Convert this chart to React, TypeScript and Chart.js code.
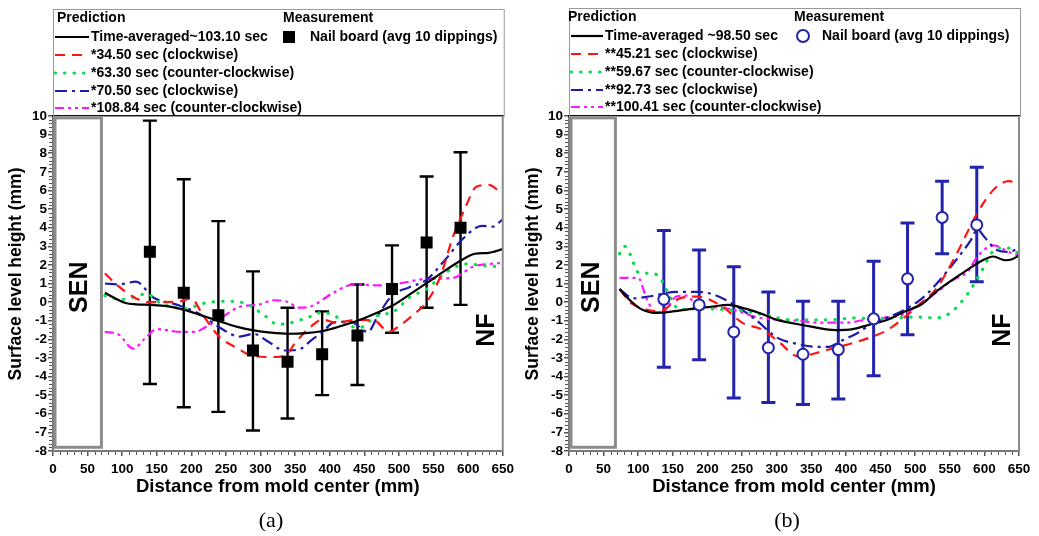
import React, { useEffect, useRef } from "react";
import { Chart, registerables } from "chart.js";
Chart.register(...registerables);

const FONT = "'Liberation Sans', Arial, sans-serif";

// ---------------- Panel (a) ----------------
const aLabels = [
  "Time-averaged~103.10 sec",
  "*34.50 sec (clockwise)",
  "*63.30 sec (counter-clockwise)",
  "*70.50 sec (clockwise)",
  "*108.84 sec (counter-clockwise)",
];
const aMeasLabel = "Nail board (avg 10 dippings)";

const aBlackX = [75, 90, 105, 120, 140, 165, 190, 215, 240, 265, 290, 315, 340, 365, 390, 415, 440, 465, 490, 515, 540, 565, 590, 610, 630, 650];
const aBlackY = [0.5, 0.2, -0.05, -0.12, -0.15, -0.22, -0.42, -0.72, -1.02, -1.32, -1.52, -1.64, -1.7, -1.67, -1.55, -1.3, -1.0, -0.62, -0.2, 0.4, 1.02, 1.65, 2.25, 2.6, 2.65, 2.85];

const aRedX = [75, 90, 105, 120, 135, 160, 185, 200, 215, 240, 265, 290, 315, 335, 350, 370, 390, 410, 440, 465, 485, 500, 520, 540, 560, 578, 595, 612, 630, 645];
const aRedY = [1.55, 1.0, 0.55, 0.2, 0.0, 0.0, 0.05, 0.2, -0.6, -1.85, -2.45, -2.9, -2.95, -2.9, -2.2, -1.4, -0.95, -1.1, -0.95, -1.0, -1.6, -1.3, -0.7, 0.0, 1.4, 3.5, 5.0, 6.2, 6.3, 5.95];

const aGreenX = [75, 100, 120, 135, 155, 190, 220, 250, 280, 305, 325, 345, 370, 390, 410, 430, 445, 465, 495, 515, 540, 568, 598, 625, 650];
const aGreenY = [0.35, 0.15, 0.3, 0.45, -0.05, -0.35, -0.05, 0.05, -0.1, -0.7, -1.2, -1.1, -0.8, -0.55, -0.8, -1.3, -1.35, -0.8, -0.45, 0.25, 0.7, 1.6, 2.05, 1.95, 1.9];

const aBlueX = [75, 95, 120, 145, 180, 215, 240, 270, 290, 310, 335, 355, 375, 390, 405, 430, 455, 470, 490, 515, 540, 565, 595, 620, 635, 650];
const aBlueY = [1.0, 0.95, 1.1, 0.25, -0.15, -0.7, -1.35, -1.85, -1.7, -2.1, -2.6, -2.55, -2.0, -1.6, -1.1, -1.05, -1.6, -0.7, 0.35, 0.8, 1.2, 2.2, 3.5, 4.1, 4.05, 4.45];

const aMagX = [75, 95, 116, 133, 150, 185, 205, 220, 245, 270, 295, 320, 340, 355, 375, 405, 435, 470, 500, 540, 578, 607, 630, 650];
const aMagY = [-1.6, -1.75, -2.5, -1.95, -1.45, -1.6, -1.6, -1.35, -0.8, -0.25, -0.15, 0.1, 0.0, -0.3, -0.2, 0.5, 0.95, 0.9, 1.0, 1.25, 1.3, 1.9, 2.05, 2.1];

const aMeasX = [140, 189, 239, 289, 339, 389, 440, 490, 540, 589];
const aMeasY = [2.7, 0.5, -0.7, -2.6, -3.2, -2.8, -1.8, 0.7, 3.2, 4.0];
const aMeasHi = [9.75, 6.6, 4.35, 1.65, -0.3, -0.5, 0.95, 3.05, 6.75, 8.05];
const aMeasLo = [-4.4, -5.65, -5.9, -6.9, -6.25, -5.0, -4.45, -1.65, -0.3, -0.15];

// ---------------- Panel (b) ----------------
const bLabels = [
  "Time-averaged ~98.50 sec",
  "**45.21 sec (clockwise)",
  "**59.67 sec (counter-clockwise)",
  "**92.73 sec (clockwise)",
  "**100.41 sec (counter-clockwise)",
];
const bMeasLabel = "Nail board (avg 10 dippings)";

const bBlackX = [73, 88, 103, 125, 150, 180, 205, 230, 255, 280, 300, 325, 350, 385, 410, 435, 460, 485, 510, 530, 550, 570, 595, 613, 630, 640, 650];
const bBlackY = [0.7, 0.1, -0.35, -0.58, -0.5, -0.35, -0.25, -0.15, -0.35, -0.65, -0.95, -1.15, -1.32, -1.5, -1.45, -1.2, -0.95, -0.5, -0.1, 0.55, 1.1, 1.6, 2.2, 2.45, 2.25, 2.3, 2.5];

const bRedX = [73, 88, 107, 130, 160, 185, 220, 250, 280, 305, 330, 345, 365, 390, 410, 435, 460, 485, 510, 531, 560, 590, 615, 635, 650];
const bRedY = [0.7, 0.0, -0.35, -0.5, 0.2, 0.3, -0.2, -1.1, -1.5, -2.2, -2.9, -2.85, -2.65, -2.4, -2.2, -1.9, -1.5, -0.8, 0.0, 0.75, 2.6, 4.8, 6.1, 6.5, 6.4];

const bGreenX = [73, 80, 88, 100, 115, 130, 140, 160, 190, 220, 255, 290, 320, 350, 380, 410, 440, 470, 500, 530, 550, 575, 595, 605, 618, 635, 650];
const bGreenY = [2.6, 3.0, 2.6, 1.6, 1.55, 1.4, 0.7, -0.4, -0.35, -0.4, -0.5, -0.75, -0.95, -0.95, -0.95, -0.85, -0.9, -0.85, -0.8, -0.85, -0.6, 0.4, 1.6, 2.3, 2.9, 2.9, 2.6];

const bBlueX = [73, 93, 115, 155, 185, 205, 230, 270, 300, 330, 355, 375, 395, 415, 440, 465, 485, 510, 530, 560, 580, 590, 600, 618, 635, 650];
const bBlueY = [0.7, 0.2, 0.3, 0.55, 0.55, 0.45, 0.05, -0.95, -1.9, -2.25, -2.4, -2.4, -2.05, -1.7, -1.1, -0.75, -0.4, 0.2, 0.95, 2.3, 3.3, 3.9, 3.5, 2.8, 2.7, 2.9];

const bMagX = [73, 100, 112, 125, 140, 155, 170, 185, 220, 245, 270, 300, 330, 360, 400, 435, 480, 505, 530, 555, 575, 590, 613, 635, 650];
const bMagY = [1.3, 1.3, 0.2, -0.55, -0.4, 0.3, 0.35, -0.2, -0.3, -0.5, -0.8, -0.95, -1.0, -1.1, -1.1, -0.9, -0.7, -0.15, 0.5, 1.2, 1.6, 2.45, 3.05, 2.7, 2.5];

const bMeasX = [137, 188, 238, 288, 338, 389, 440, 489, 539, 589];
const bMeasY = [0.15, -0.15, -1.6, -2.45, -2.8, -2.55, -0.9, 1.25, 4.55, 4.15];
const bMeasHi = [3.85, 2.8, 1.9, 0.55, 0.05, 0.05, 2.2, 4.25, 6.5, 7.25];
const bMeasLo = [-3.5, -3.1, -5.15, -5.4, -5.5, -5.2, -3.95, -1.75, 2.6, 1.1];

// ---------------- Styles ----------------
const lineColors = ["#000000", "#ff1414", "#10dc50", "#1c1ca8", "#ff14ff"];
const lineDashes: number[][] = [[], [10, 7], [0.5, 9], [12, 5, 3, 5], [9, 4, 3, 4, 3, 4]];
const lineWidths = [2.2, 2.2, 3.2, 2.2, 2.2];
const lineCaps = ["butt", "butt", "round", "butt", "butt"];

type Spec = {
  id: string;
  left: number;
  yAxisW: number;
  rightPad: number;
  labels: string[];
  measLabel: string;
  series: { x: number[]; y: number[] }[];
  measX: number[];
  measY: number[];
  measHi: number[];
  measLo: number[];
  errColor: string;
  marker: "rect" | "circle";
  senRight: number;
  senX: number;
  legendTop: number;
  rows: number[];
  predX: number;
  textX: number;
  measHdrX: number;
  markerX: number;
  measTextX: number;
  yTitleX: number;
  panel: string;
};

const specA: Spec = {
  id: "a",
  left: 0,
  yAxisW: 53,
  rightPad: 16,
  labels: aLabels,
  measLabel: aMeasLabel,
  series: [
    { x: aBlackX, y: aBlackY },
    { x: aRedX, y: aRedY },
    { x: aGreenX, y: aGreenY },
    { x: aBlueX, y: aBlueY },
    { x: aMagX, y: aMagY },
  ],
  measX: aMeasX,
  measY: aMeasY,
  measHi: aMeasHi,
  measLo: aMeasLo,
  errColor: "#000000",
  marker: "rect",
  senRight: 70,
  senX: 39,
  legendTop: 9,
  rows: [18, 37, 55, 73, 91, 108],
  predX: 4,
  textX: 38,
  measHdrX: 230,
  markerX: 236,
  measTextX: 257,
  yTitleX: 16,
  panel: "(a)",
};

const specB: Spec = {
  id: "b",
  left: 520,
  yAxisW: 49,
  rightPad: 20,
  labels: bLabels,
  measLabel: bMeasLabel,
  series: [
    { x: bBlackX, y: bBlackY },
    { x: bRedX, y: bRedY },
    { x: bGreenX, y: bGreenY },
    { x: bBlueX, y: bBlueY },
    { x: bMagX, y: bMagY },
  ],
  measX: bMeasX,
  measY: bMeasY,
  measHi: bMeasHi,
  measLo: bMeasLo,
  errColor: "#2323ac",
  marker: "circle",
  senRight: 67,
  senX: 33,
  legendTop: 8,
  rows: [17, 36, 54, 72, 90, 107],
  predX: -1,
  textX: 36,
  measHdrX: 225,
  markerX: 234,
  measTextX: 253,
  yTitleX: 13,
  panel: "(b)",
};

function makePlugin(s: Spec) {
  return {
    id: "custom_" + s.id,
    beforeDatasetsDraw(chart: any) {
      const { ctx, scales } = chart;
      const x = scales.x;
      const y = scales.y;
      ctx.save();
      // SEN box
      ctx.strokeStyle = "#8c8c8c";
      ctx.lineWidth = 3;
      const x0 = x.getPixelForValue(0) + 2;
      const x1 = x.getPixelForValue(s.senRight);
      const y0 = y.getPixelForValue(9.9);
      const y1 = y.getPixelForValue(-7.8);
      ctx.strokeRect(x0, y0, x1 - x0, y1 - y0);
      // error bars
      ctx.strokeStyle = s.errColor;
      ctx.lineWidth = s.marker === "rect" ? 2.4 : 3;
      for (let i = 0; i < s.measX.length; i++) {
        const px = x.getPixelForValue(s.measX[i]);
        const pt = y.getPixelForValue(s.measHi[i]);
        const pb = y.getPixelForValue(s.measLo[i]);
        ctx.beginPath();
        ctx.moveTo(px, pt);
        ctx.lineTo(px, pb);
        ctx.moveTo(px - 7, pt);
        ctx.lineTo(px + 7, pt);
        ctx.moveTo(px - 7, pb);
        ctx.lineTo(px + 7, pb);
        ctx.stroke();
      }
      ctx.restore();
    },
    afterDraw(chart: any) {
      const { ctx, chartArea: ca, scales } = chart;
      const x = scales.x;
      const y = scales.y;
      ctx.save();
      // frame top / right
      ctx.lineWidth = 2;
      ctx.strokeStyle = "#111";
      ctx.beginPath();
      ctx.moveTo(ca.left - 1, ca.top);
      ctx.lineTo(ca.right + 1, ca.top);
      ctx.stroke();
      ctx.strokeStyle = "#8a8a8a";
      ctx.beginPath();
      ctx.moveTo(ca.right, ca.top);
      ctx.lineTo(ca.right, ca.bottom + 1);
      ctx.stroke();
      // minor ticks
      ctx.strokeStyle = "#555";
      ctx.lineWidth = 1;
      ctx.beginPath();
      for (let v = 0; v <= 650; v += 10) {
        if (v % 50 === 0) continue;
        const px = Math.round(x.getPixelForValue(v)) + 0.5;
        ctx.moveTo(px, ca.bottom + 1);
        ctx.lineTo(px, ca.bottom + 4);
      }
      for (let k = -40; k <= 50; k++) {
        if (k % 5 === 0) continue;
        const py = Math.round(y.getPixelForValue(k / 5)) + 0.5;
        ctx.moveTo(ca.left - 1, py);
        ctx.lineTo(ca.left - 4, py);
      }
      ctx.stroke();

      // legend box
      ctx.strokeStyle = "#9a9a9a";
      ctx.lineWidth = 1;
      ctx.strokeRect(ca.left + 0.5, s.legendTop + 0.5, ca.right - ca.left + 1, ca.top - s.legendTop);
      ctx.fillStyle = "#000";
      ctx.textBaseline = "middle";
      ctx.textAlign = "left";
      ctx.font = `bold 14px ${FONT}`;
      ctx.fillText("Prediction", ca.left + s.predX, s.rows[0]);
      ctx.fillText("Measurement", ca.left + s.measHdrX, s.rows[0]);
      for (let i = 0; i < s.labels.length; i++) {
        const ry = s.rows[i + 1];
        ctx.save();
        ctx.strokeStyle = lineColors[i];
        ctx.lineWidth = lineWidths[i];
        ctx.lineCap = lineCaps[i] as CanvasLineCap;
        ctx.setLineDash(lineDashes[i]);
        ctx.beginPath();
        ctx.moveTo(ca.left + 2, ry);
        ctx.lineTo(ca.left + s.textX - 2, ry);
        ctx.stroke();
        ctx.restore();
        ctx.fillText(s.labels[i], ca.left + s.textX, ry);
      }
      // measurement marker
      if (s.marker === "rect") {
        ctx.fillStyle = "#000";
        ctx.fillRect(ca.left + s.markerX - 6, s.rows[1] - 6, 12, 12);
      } else {
        ctx.fillStyle = "#fff";
        ctx.strokeStyle = s.errColor;
        ctx.lineWidth = 2;
        ctx.beginPath();
        ctx.arc(ca.left + s.markerX, s.rows[1], 6, 0, Math.PI * 2);
        ctx.fill();
        ctx.stroke();
      }
      ctx.fillStyle = "#000";
      ctx.fillText(s.measLabel, ca.left + s.measTextX, s.rows[1]);

      // SEN / NF
      ctx.font = `bold 25px ${FONT}`;
      ctx.textAlign = "center";
      ctx.textBaseline = "middle";
      ctx.save();
      ctx.translate(x.getPixelForValue(s.senX), y.getPixelForValue(0.8));
      ctx.rotate(-Math.PI / 2);
      ctx.fillText("SEN", 0, 0);
      ctx.restore();
      ctx.save();
      ctx.translate(x.getPixelForValue(627), y.getPixelForValue(-1.5));
      ctx.rotate(-Math.PI / 2);
      ctx.fillText("NF", 0, 0);
      ctx.restore();

      // axis titles
      ctx.font = `bold 18.5px ${FONT}`;
      ctx.fillText("Distance from mold center (mm)", (ca.left + ca.right) / 2, 487);
      ctx.save();
      ctx.font = `bold 17.5px ${FONT}`;
      ctx.translate(s.yTitleX, 274);
      ctx.rotate(-Math.PI / 2);
      ctx.fillText("Surface level height (mm)", 0, 0);
      ctx.restore();

      // panel label
      ctx.font = `22px 'Liberation Serif', 'Times New Roman', serif`;
      ctx.fillText(s.panel, ca.left + 218, 521);
      ctx.restore();
    },
  };
}

function Panel({ spec }: { spec: Spec }) {
  const ref = useRef<HTMLCanvasElement | null>(null);
  useEffect(() => {
    if (!ref.current) return;
    const s = spec;
    const datasets: any[] = [];
    datasets.push({
      label: s.measLabel,
      data: s.measX.map((v, i) => ({ x: v, y: s.measY[i] })),
      showLine: false,
      pointStyle: s.marker,
      pointRadius: s.marker === "rect" ? 8.5 : 5.5,
      pointBackgroundColor: s.marker === "rect" ? "#000" : "#fff",
      pointBorderColor: s.marker === "rect" ? "#000" : s.errColor,
      pointBorderWidth: s.marker === "rect" ? 0 : 2,
      order: 0,
    });
    s.series.forEach((ser, i) => {
      datasets.push({
        label: s.labels[i],
        data: ser.x.map((v, j) => ({ x: v, y: ser.y[j] })),
        borderColor: lineColors[i],
        borderWidth: lineWidths[i],
        borderDash: lineDashes[i],
        borderCapStyle: lineCaps[i],
        pointRadius: 0,
        fill: false,
        cubicInterpolationMode: "monotone",
        order: i === 0 ? 1 : 2,
      });
    });
    const tickFont = { family: FONT, size: 13.5, weight: "bold" as const };
    const chart = new Chart(ref.current, {
      type: "line",
      data: { datasets },
      options: {
        responsive: false,
        animation: false,
        devicePixelRatio: 1,
        layout: { padding: { left: 0, top: 116, right: s.rightPad, bottom: 0 } },
        plugins: { legend: { display: false }, tooltip: { enabled: false } },
        scales: {
          x: {
            type: "linear",
            min: 0,
            max: 650,
            afterFit: (sc: any) => {
              sc.height = 85;
            },
            ticks: { stepSize: 50, autoSkip: false, maxRotation: 0, color: "#000", font: tickFont, padding: 5 },
            grid: { drawOnChartArea: false, drawTicks: true, tickLength: 5, color: "#555", lineWidth: 1.5 },
            border: { display: true, color: "#7a7a7a", width: 2 },
          },
          y: {
            type: "linear",
            min: -8,
            max: 10,
            afterFit: (sc: any) => {
              sc.width = s.yAxisW;
            },
            ticks: { stepSize: 1, autoSkip: false, color: "#000", font: tickFont, padding: 1 },
            grid: { drawOnChartArea: false, drawTicks: true, tickLength: 5, color: "#555", lineWidth: 1.5 },
            border: { display: true, color: "#7a7a7a", width: 2 },
          },
        },
      } as any,
      plugins: [makePlugin(s)],
    });
    return () => chart.destroy();
  }, [spec]);
  return (
    <canvas
      ref={ref}
      width={519}
      height={536}
      style={{ position: "absolute", left: spec.left, top: 0, width: 519, height: 536 }}
    />
  );
}

export default function App() {
  return (
    <div style={{ position: "absolute", left: 0, top: 0, width: 1039, height: 536, background: "#fff", overflow: "hidden" }}>
      <Panel spec={specA} />
      <Panel spec={specB} />
    </div>
  );
}
